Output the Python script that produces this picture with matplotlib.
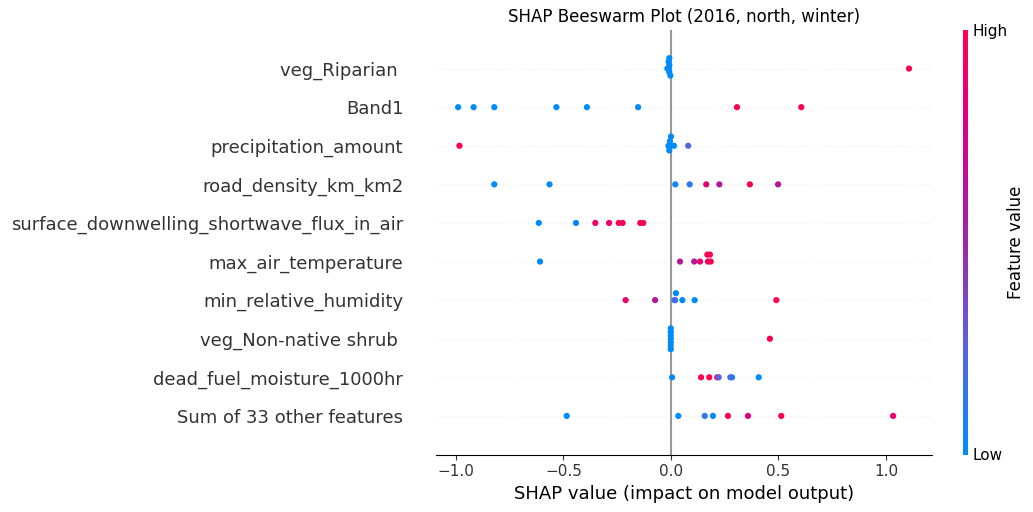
import numpy as np
import matplotlib
matplotlib.use("Agg")
import matplotlib.pyplot as plt
from matplotlib.colors import LinearSegmentedColormap
from matplotlib.cm import ScalarMappable

# nombres de las variables, de arriba hacia abajo
features = ["veg_Riparian ", "Band1", "precipitation_amount", "road_density_km_km2",
            "surface_downwelling_shortwave_flux_in_air", "max_air_temperature",
            "min_relative_humidity", "veg_Non-native shrub ", "dead_fuel_moisture_1000hr",
            "Sum of 33 other features"]

# shap, desplazamiento vertical del enjambre y valor de la variable (0 a 1)
shap_riparian = [-0.008, -0.011, -0.008, -0.017, -0.011, -0.008, -0.003, 1.107]
off_riparian = [0.27, 0.18, 0.09, 0, 0, -0.09, -0.18, 0]
val_riparian = [0, 0, 0, 0, 0, 0, 0, 1]

shap_band1 = [-0.99, -0.918, -0.822, -0.533, -0.391, -0.153, 0.307, 0.606]
off_band1 = [0, 0, 0, 0, 0, 0, 0, 0]
val_band1 = [0, 0, 0, 0, 0, 0, 1, 1]

shap_precip = [-0.984, 0.0, -0.005, -0.012, -0.002, 0.014, -0.008, 0.08]
off_precip = [0, 0.24, 0.12, 0, 0, 0, -0.12, 0]
val_precip = [1, 0, 0, 0, 0, 0, 0, 0.25]

shap_road = [-0.822, -0.565, 0.02, 0.087, 0.164, 0.225, 0.367, 0.498]
off_road = [0, 0, 0, 0, 0, 0, 0, 0]
val_road = [0, 0, 0.03, 0.12, 0.85, 0.6, 1, 0.62]

shap_surface = [-0.615, -0.442, -0.352, -0.288, -0.243, -0.225, -0.143, -0.129]
off_surface = [0, 0, 0, 0, 0, 0, 0, 0]
val_surface = [0, 0.02, 0.88, 0.88, 0.98, 0.95, 1, 1]

shap_air = [-0.609, 0.042, 0.108, 0.135, 0.172, 0.185, 0.169, 0.181]
off_air = [0, 0, 0, 0, 0, 0, 0.18, 0.18]
val_air = [0, 0.6, 0.6, 0.9, 0.9, 1, 1, 1]

shap_rh = [-0.211, -0.074, 0.023, 0.016, 0.019, 0.053, 0.11, 0.49]
off_rh = [0, 0, 0.18, 0, 0, 0, 0, 0]
val_rh = [0.88, 0.6, 0, 0, 0.2, 0, 0, 1]

shap_shrub = [-0.001, -0.001, -0.001, -0.001, -0.001, -0.001, -0.001, 0.46]
off_shrub = [0.27, 0.18, 0.09, 0, -0.09, -0.18, -0.27, 0]
val_shrub = [0, 0, 0, 0, 0, 0, 0, 1]

shap_fuel = [0.005, 0.14, 0.178, 0.215, 0.222, 0.284, 0.276, 0.408]
off_fuel = [0, 0, 0, 0, 0, 0, 0, 0]
val_fuel = [0, 1, 1, 0.95, 0.25, 0, 0.2, 0]

shap_other = [-0.485, 0.034, 0.157, 0.195, 0.265, 0.358, 0.513, 1.033]
off_other = [0, 0, 0, 0, 0, 0, 0, 0]
val_other = [0, 0, 0.15, 0, 1, 0.8, 1, 0.9]

shap_rows = [shap_riparian, shap_band1, shap_precip, shap_road, shap_surface,
             shap_air, shap_rh, shap_shrub, shap_fuel, shap_other]
off_rows = [off_riparian, off_band1, off_precip, off_road, off_surface,
            off_air, off_rh, off_shrub, off_fuel, off_other]
val_rows = [val_riparian, val_band1, val_precip, val_road, val_surface,
            val_air, val_rh, val_shrub, val_fuel, val_other]

red_blue = LinearSegmentedColormap.from_list(
    "red_blue", ["#008bfb", "#5a64e0", "#9c27a8", "#d6008a", "#ff0051"])

fig = plt.figure(figsize=(10.33, 5.12), dpi=100)
ax = fig.add_axes([436 / 1033, 1 - 454.5 / 512, 496 / 1033, 424.5 / 512])

n = len(features)
ax.axvline(0, color="#999999", lw=1.5, zorder=-1)
for i in range(n):
    pos = n - 1 - i
    ax.axhline(pos, color="#cccccc", lw=0.5, dashes=(1, 5), zorder=-1)
    ax.scatter(shap_rows[i], pos + np.array(off_rows[i]), c=val_rows[i], cmap=red_blue,
               vmin=0, vmax=1, s=20, linewidths=0, zorder=3)

ax.set_xlim(-1.093, 1.214)
ax.set_ylim(-1, n)
ax.set_yticks(range(n))
ax.set_yticklabels(features[::-1], fontsize=13, color="#333333")
ax.tick_params(axis="y", length=0, pad=23.5)
ax.tick_params(axis="x", labelsize=11, color="#333333", labelcolor="#333333")
ax.xaxis.set_ticks_position("bottom")
for side in ["top", "right", "left"]:
    ax.spines[side].set_visible(False)
ax.set_xlabel("SHAP value (impact on model output)", fontsize=13)
ax.set_title("SHAP Beeswarm Plot (2016, north, winter)", fontsize=12, pad=6)

# barra de color
cax = fig.add_axes([963 / 1033, 1 - 454.5 / 512, 5 / 1033, 424.5 / 512])
cb = fig.colorbar(ScalarMappable(cmap=red_blue), cax=cax, ticks=[0, 1])
cb.set_ticklabels(["Low", "High"], fontsize=11)
cb.ax.tick_params(length=0, pad=3.5)
cb.outline.set_visible(False)
cb.set_label("Feature value", fontsize=12, labelpad=-1)

fig.savefig("out.png", dpi=100)
